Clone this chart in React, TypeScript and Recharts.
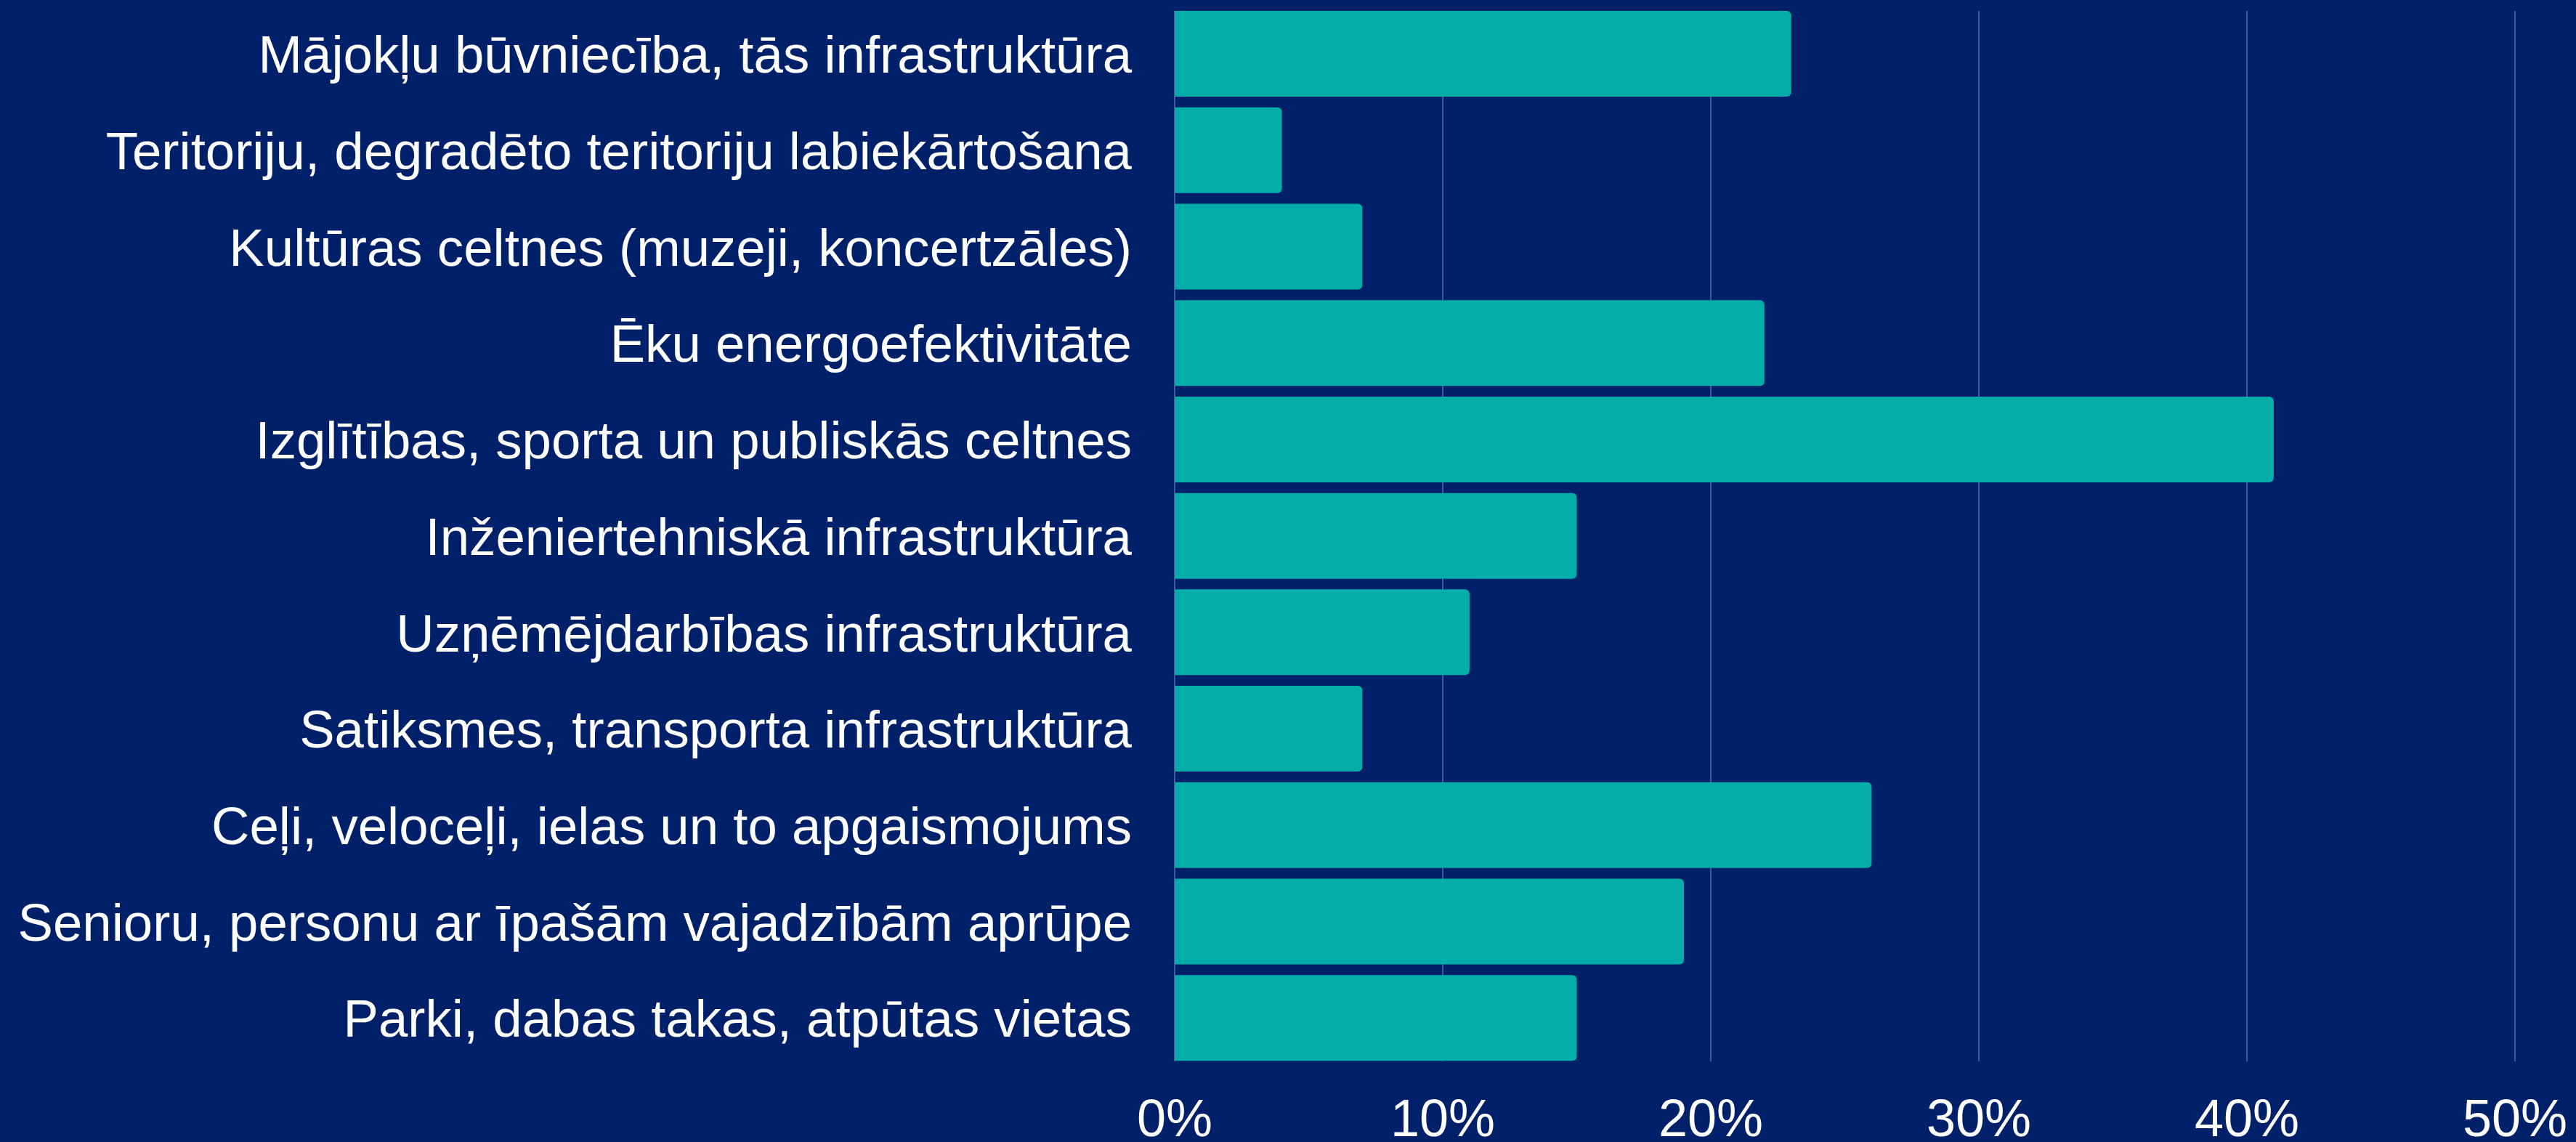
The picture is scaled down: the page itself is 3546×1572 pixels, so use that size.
import { Bar, BarChart, CartesianGrid, XAxis, YAxis } from 'recharts'

const categories = [
  'Mājokļu būvniecība, tās infrastruktūra',
  'Teritoriju, degradēto teritoriju labiekārtošana',
  'Kultūras celtnes (muzeji, koncertzāles)',
  'Ēku energoefektivitāte',
  'Izglītības, sporta un publiskās celtnes',
  'Inženiertehniskā infrastruktūra',
  'Uzņēmējdarbības infrastruktūra',
  'Satiksmes, transporta infrastruktūra',
  'Ceļi, veloceļi, ielas un to apgaismojums',
  'Senioru, personu ar īpašām vajadzībām aprūpe',
  'Parki, dabas takas, atpūtas vietas',
]

const shares = [23, 4, 7, 22, 41, 15, 11, 7, 26, 19, 15]

const xTicks = [0, 10, 20, 30, 40, 50]

const BG = '#002169'
const BAR = '#02adaa'
const GRID = '#3f5a9c'
const FONT = '"Liberation Sans", Arial, sans-serif'

export default function App() {
  const data = categories.map((name, i) => ({ name, value: shares[i] }))

  return (
    <div style={{ position: 'absolute', left: 0, top: 0, width: 3546, height: 1572, background: BG, fontFamily: FONT }}>
      <BarChart
        width={3546}
        height={1572}
        data={data}
        layout="vertical"
        margin={{ top: 15, right: 84, bottom: 0, left: 0 }}
      >
        <CartesianGrid horizontal={false} stroke={GRID} strokeWidth={2} />
        <XAxis
          type="number"
          domain={[0, 50]}
          ticks={xTicks}
          tickFormatter={(v) => `${v}%`}
          axisLine={false}
          tickLine={false}
          tickMargin={46}
          height={111}
          tick={{ fill: '#ffffff', fontSize: 72, fontFamily: FONT }}
          interval={0}
        />
        <YAxis
          type="category"
          dataKey="name"
          width={1617}
          axisLine={false}
          tickLine={false}
          tickMargin={53}
          padding={{ top: -7, bottom: -7 }}
          interval={0}
          tick={{ fill: '#ffffff', fontSize: 72.6, fontFamily: FONT }}
        />
        <Bar dataKey="value" fill={BAR} barSize={118} radius={[0, 6, 6, 0]} isAnimationActive={false} />
      </BarChart>
    </div>
  )
}
